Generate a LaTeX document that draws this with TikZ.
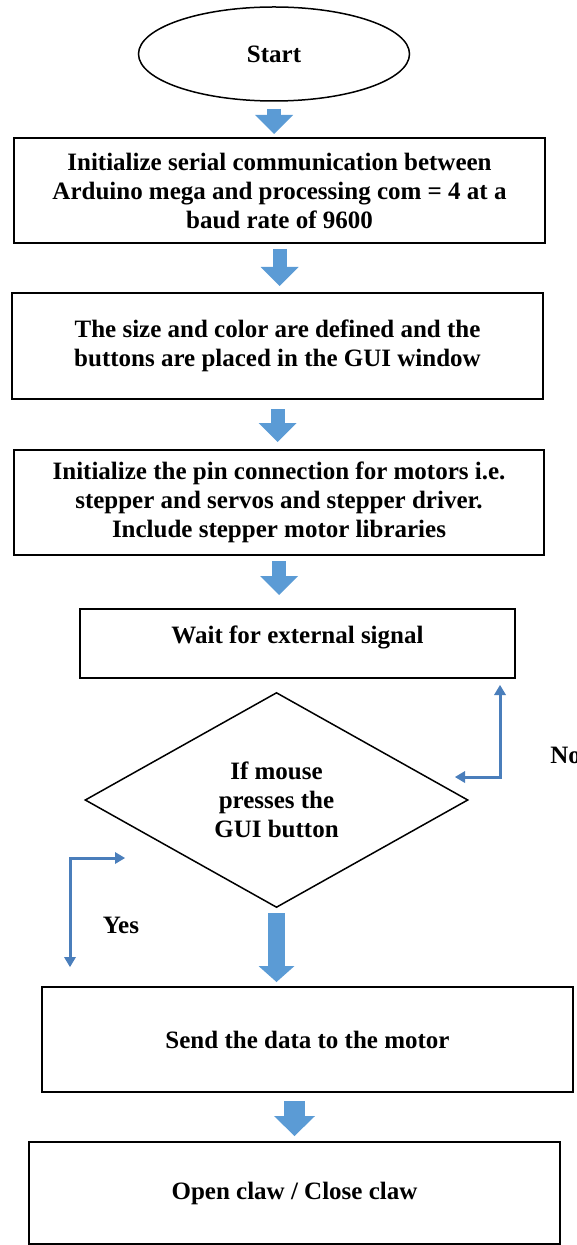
\documentclass[tikz,border=0pt]{standalone}
\usepackage{fontspec}
\setmainfont{Liberation Serif}
\usetikzlibrary{shapes.geometric}
\usetikzlibrary{arrows.meta}
\definecolor{flowblue}{HTML}{5B9BD5}
\definecolor{backblue}{HTML}{4A7EBB}
\newcommand{\flowfont}{\fontsize{12.5}{14.5}\selectfont\bfseries}
\tikzstyle{block}=[draw, rectangle, line width=1pt, align=center, inner sep=0, font=\flowfont]
\tikzstyle{startstop}=[draw, ellipse, line width=0.75pt, inner sep=0, font=\flowfont]
\tikzstyle{decision}=[draw, diamond, line width=0.75pt, align=center, inner sep=0, font=\flowfont]
\tikzstyle{bigarrow}=[flowblue, line width=7pt, -{Triangle[width=19pt, length=9.5pt, line width=0pt]}]
\tikzstyle{backline}=[backblue, line width=1.5pt,
                      {Triangle[width=6pt, length=5pt, line width=0pt]}-{Triangle[width=6pt, length=5pt, line width=0pt]}]

\begin{document}
\begin{tikzpicture}[x=0.5pt, y=-0.5pt]
        \useasboundingbox (0, 0) rectangle (577, 1245);
        % steps, top to bottom
        \node[startstop, minimum width=135.5pt, minimum height=47pt] (start) at (274, 54) {Start};
        \node[block, minimum width=265.5pt, minimum height=52.5pt] (serial) at (279.5, 190.5)
            {Initialize serial communication between\\ Arduino mega and processing com = 4 at a\\ baud rate of 9600};
        \node[block, minimum width=265.5pt, minimum height=53pt] (gui) at (277.5, 346)
            {The size and color are defined and the\\ buttons are placed in the GUI window};
        \node[block, minimum width=265pt, minimum height=52.5pt] (pins) at (279, 502.5)
            {Initialize the pin connection for motors i.e.\\ stepper and servos and stepper driver.\\ Include stepper motor libraries};
        \node[block, minimum width=217.5pt, minimum height=34.5pt, text height=8pt, text depth=8pt] (wait) at (297.5, 643.5)
            {Wait for external signal};
        \node[decision, minimum width=191.5pt, minimum height=107.5pt] (mouse) at (276.5, 800)
            {If mouse\\ presses the\\ GUI button};
        \node[block, minimum width=265.5pt, minimum height=52.5pt] (send) at (307.5, 1039.5) {Send the data to the motor};
        \node[block, minimum width=265.5pt, minimum height=51pt] (claw) at (294.5, 1193) {Open claw / Close claw};

        \draw[bigarrow, shorten <=3.5pt, shorten >=1.5pt] (start.south) -- (start.south |- serial.north);
        \draw[bigarrow, shorten <=2.5pt, shorten >=3pt] (serial.south) -- (serial.south |- gui.north);
        \draw[bigarrow, shorten <=4.5pt, shorten >=3.5pt] (gui.south) -- (gui.south |- pins.north);
        \draw[bigarrow, shorten <=2.5pt, shorten >=6.5pt] (pins.south) -- (pins.south |- wait.north);
        \draw[bigarrow, line width=8.5pt, -{Triangle[width=18pt, length=8pt, line width=0pt]},
              shorten <=2.5pt, shorten >=2pt] (mouse.south) -- (mouse.south |- send.north);
        \draw[bigarrow, line width=10.5pt, -{Triangle[width=20.5pt, length=10pt, line width=0pt]},
              shorten <=4pt, shorten >=2.5pt] (claw.north |- send.south) -- (claw.north);

        % the two bent arrows
        \coordinate (nofrom) at (455, 777);
        \coordinate (noto) at (500, 685);
        \draw[backline] (nofrom) -| (noto);
        \node[anchor=west, inner sep=0, font=\flowfont] (nolabel) at (550, 755) {No};
        \coordinate (yesfrom) at (70, 967);
        \coordinate (yesto) at (125, 858);
        \draw[backline] (yesfrom) |- (yesto);
        \node[inner sep=0, font=\flowfont] (yeslabel) at (121, 925) {Yes};
\end{tikzpicture}
\end{document}
